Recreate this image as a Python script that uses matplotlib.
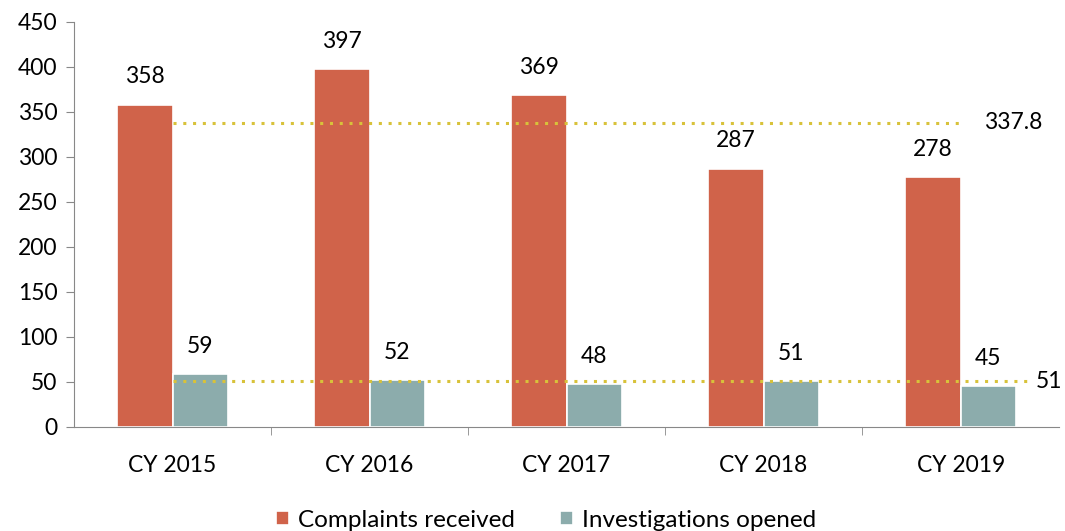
import numpy as np
import matplotlib.pyplot as plt

plt.rcParams['font.family'] = ['Lato', 'DejaVu Sans']

years = ['CY 2015', 'CY 2016', 'CY 2017', 'CY 2018', 'CY 2019']
complaints = [358, 397, 369, 287, 278]
investigations = [59, 52, 48, 51, 45]
avg_complaints = 337.8
avg_investigations = 51

c_orange = '#D0634A'
c_teal = '#8CACAC'
c_avg = '#D8C23A'
fs = 16.5

fig = plt.figure(figsize=(10.65, 5.31), dpi=100)
ax = fig.add_axes([0.0695, 0.196, 0.925, 0.763])

x = np.arange(len(years))
w = 0.28
b1 = ax.bar(x - w / 2, complaints, w, color=c_orange, edgecolor='white', linewidth=1.2,
            label='Complaints received', zorder=2)
b2 = ax.bar(x + w / 2, investigations, w, color=c_teal, edgecolor='white', linewidth=1.2,
            label='Investigations opened', zorder=2)

for rect, v in zip(b1, complaints):
    ax.text(rect.get_x() + rect.get_width() / 2, v + 19, str(v), ha='center', va='bottom', fontsize=fs)
for rect, v in zip(b2, investigations):
    ax.text(rect.get_x() + rect.get_width() / 2, v + 19, str(v), ha='center', va='bottom', fontsize=fs)

# average lines
ax.plot([0, 4], [avg_complaints, avg_complaints], linestyle=(0, (1, 2.2)), color=c_avg,
        linewidth=2.2, zorder=3)
ax.plot([0, 4.34], [avg_investigations, avg_investigations], linestyle=(0, (1, 2.2)), color=c_avg,
        linewidth=2.2, zorder=3)
ax.text(4.12, avg_complaints, f'{avg_complaints}', ha='left', va='center', fontsize=fs)
ax.text(4.38, avg_investigations, f'{avg_investigations}', ha='left', va='center', fontsize=fs)

ax.set_xlim(-0.5, 4.5)
ax.set_ylim(0, 450)
ax.set_yticks(range(0, 451, 50))
ax.set_xticks(x)
ax.set_xticklabels(years)
ax.set_xticks(np.arange(0.5, 4.5, 1), minor=True)
ax.tick_params(axis='x', which='major', length=0, labelsize=fs, pad=20)
ax.tick_params(axis='x', which='minor', length=6, color='#888888')
ax.tick_params(axis='y', length=6, color='#888888', labelsize=fs, pad=6)

for s in ['top', 'right']:
    ax.spines[s].set_visible(False)
for s in ['left', 'bottom']:
    ax.spines[s].set_color('#888888')

ax.legend(loc='lower center', bbox_to_anchor=(0.479, -0.31), ncol=2, frameon=False,
          fontsize=17.5, handlelength=0.55, handleheight=0.55, columnspacing=1.85, handletextpad=0.35)

plt.savefig('out.png')
plt.close()
